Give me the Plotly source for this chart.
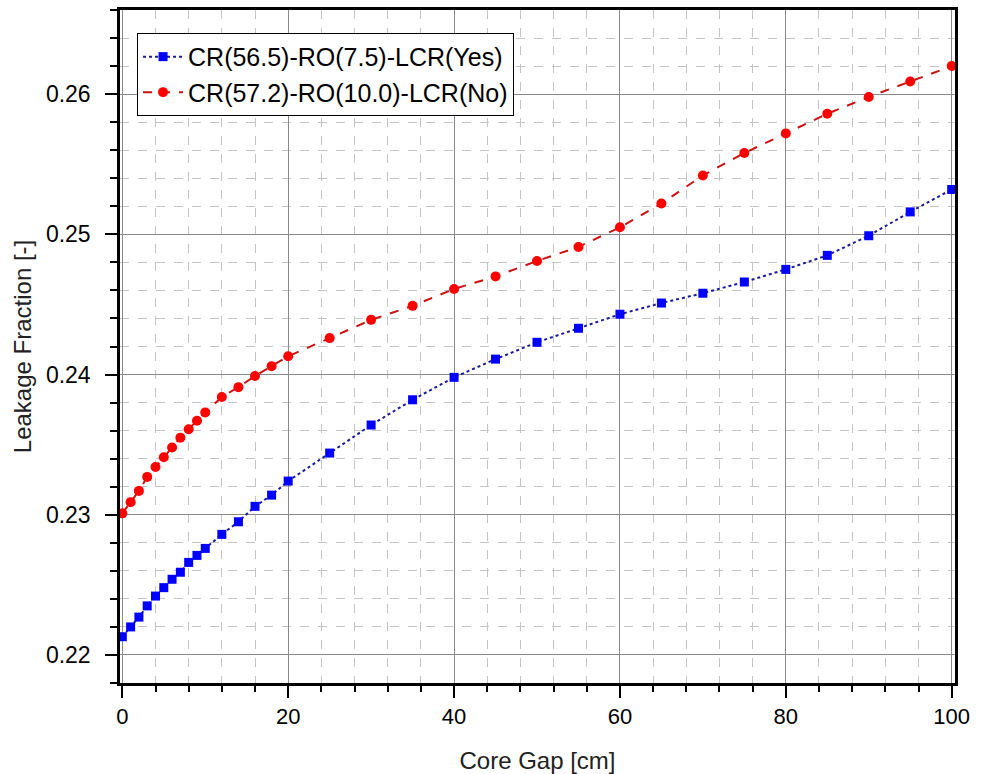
import plotly.graph_objects as go

# Core gap [cm]
gap = [0, 1, 2, 3, 4, 5, 6, 7, 8, 9, 10, 12, 14, 16, 18, 20,
       25, 30, 35, 40, 45, 50, 55, 60, 65, 70, 75, 80, 85, 90, 95, 100]

# CR(56.5)-RO(7.5)-LCR(Yes)
leak_yes = [0.2213, 0.2220, 0.2227, 0.2235, 0.2242, 0.2248, 0.2254, 0.2259,
            0.2266, 0.2271, 0.2276, 0.2286, 0.2295, 0.2306, 0.2314, 0.2324,
            0.2344, 0.2364, 0.2382, 0.2398, 0.2411, 0.2423, 0.2433, 0.2443,
            0.2451, 0.2458, 0.2466, 0.2475, 0.2485, 0.2499, 0.2516, 0.2532]

# CR(57.2)-RO(10.0)-LCR(No)
leak_no = [0.2301, 0.2309, 0.2317, 0.2327, 0.2334, 0.2341, 0.2348, 0.2355,
           0.2361, 0.2367, 0.2373, 0.2384, 0.2391, 0.2399, 0.2406, 0.2413,
           0.2426, 0.2439, 0.2449, 0.2461, 0.2470, 0.2481, 0.2491, 0.2505,
           0.2522, 0.2542, 0.2558, 0.2572, 0.2586, 0.2598, 0.2609, 0.2620]

name_yes = "CR(56.5)-RO(7.5)-LCR(Yes)"
name_no = "CR(57.2)-RO(10.0)-LCR(No)"

x_ticks = [0, 20, 40, 60, 80, 100]
y_ticks = [0.22, 0.23, 0.24, 0.25, 0.26]
y_tick_text = ["0.22", "0.23", "0.24", "0.25", "0.26"]

FONT = "Liberation Sans, Arial, sans-serif"

fig = go.Figure()
fig.add_trace(go.Scatter(
    x=gap, y=leak_yes, name=name_yes, mode="lines+markers",
    line=dict(color="#1a1a9a", width=2, dash="dot"),
    marker=dict(symbol="square", size=9, color="#0000ff"),
))
fig.add_trace(go.Scatter(
    x=gap, y=leak_no, name=name_no, mode="lines+markers",
    line=dict(color="#cc1111", width=2, dash="dash"),
    marker=dict(symbol="circle", size=10, color="#ff0000"),
))

axis_common = dict(
    showline=True, linecolor="black", linewidth=2.5, mirror=True,
    ticks="outside", ticklen=12, tickwidth=2, tickcolor="black",
    showgrid=True, gridcolor="#8a8a8a", gridwidth=1,
    zeroline=False, automargin=False,
)

fig.update_xaxes(
    **axis_common,
    range=[-0.28, 100.4],
    tickvals=x_ticks, ticktext=[str(v) for v in x_ticks],
    tickfont=dict(family=FONT, size=22, color="black"),
    minor=dict(tick0=0, dtick=4, ticks="outside", ticklen=6, tickwidth=2,
               tickcolor="black", showgrid=True, gridcolor="#c4c4c4",
               griddash="dash", gridwidth=1),
    title=dict(text="Core Gap [cm]", font=dict(family=FONT, size=24, color="#222"),
               standoff=30),
)
fig.update_yaxes(
    **axis_common,
    range=[0.218, 0.266],
    tickvals=y_ticks, ticktext=y_tick_text,
    tickfont=dict(family=FONT, size=23, color="black"),
    ticklabelstandoff=10,
    minor=dict(tick0=0.22, dtick=0.002, ticks="outside", ticklen=7, tickwidth=2,
               tickcolor="black", showgrid=True, gridcolor="#c4c4c4",
               griddash="dash", gridwidth=1),
    title=dict(text="Leakage Fraction [-]", font=dict(family=FONT, size=24, color="#222"),
               standoff=8),
)

fig.update_layout(
    width=984, height=774,
    margin=dict(l=120, r=29, t=10, b=91, autoexpand=False),
    paper_bgcolor="white", plot_bgcolor="white",
    showlegend=True,
    legend=dict(
        x=0.0204, y=0.966, xanchor="left", yanchor="top",
        bgcolor="white", bordercolor="black", borderwidth=1,
        font=dict(family=FONT, size=25, color="black"),
        itemwidth=40, tracegroupgap=0,
    ),
)

fig.write_html("out.html")
